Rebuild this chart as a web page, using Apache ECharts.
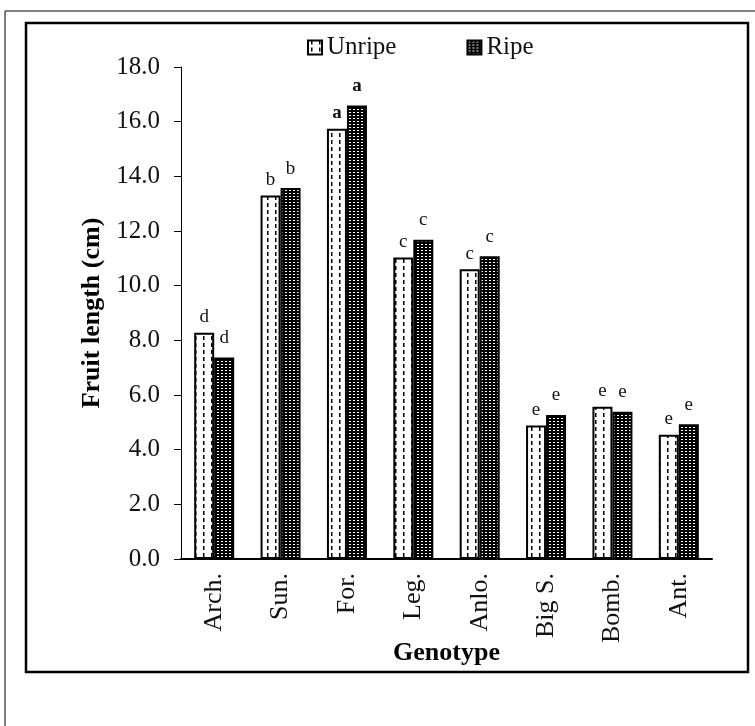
<!DOCTYPE html>
<html><head><meta charset="utf-8">
<script src="https://cdn.jsdelivr.net/npm/echarts@6/dist/echarts.min.js"></script>
<style>html,body{margin:0;padding:0;background:#fff}#c{width:755px;height:726px}</style>
</head><body><div id="c"></div>
<script>
const categories = ['Arch.', 'Sun.', 'For.', 'Leg.', 'Anlo.', 'Big S.', 'Bomb.', 'Ant.'];
const unripe = [8.28, 13.30, 15.74, 11.03, 10.60, 4.88, 5.57, 4.55];
const ripe = [7.37, 13.57, 16.59, 11.68, 11.08, 5.27, 5.39, 4.93];
const unripeLetters = ['d', 'b', 'a', 'c', 'c', 'e', 'e', 'e'];
const ripeLetters = ['d', 'b', 'a', 'c', 'c', 'e', 'e', 'e'];
const boldLetters = [false, false, true, false, false, false, false, false];
const yMin = 0, yMax = 18, yStep = 2;

const FONT = "'Liberation Serif', 'DejaVu Serif', serif";

function makeDash() {
  const c = document.createElement('canvas');
  c.width = 8; c.height = 7;
  const g = c.getContext('2d');
  g.fillStyle = '#fff'; g.fillRect(0, 0, 8, 7);
  g.fillStyle = '#000'; g.fillRect(3, 0, 1.5, 4);
  return c;
}
function makeDots() {
  const c = document.createElement('canvas');
  c.width = 4; c.height = 3;
  const g = c.getContext('2d');
  g.fillStyle = '#000'; g.fillRect(0, 0, 4, 3);
  g.fillStyle = '#fff'; g.fillRect(1, 1, 2, 1);
  return c;
}
const dashFill = { image: makeDash(), repeat: 'repeat' };
const dotFill = { image: makeDots(), repeat: 'repeat' };

function mkData(vals, letters) {
  return vals.map((v, i) => ({
    value: v,
    label: { formatter: letters[i], fontWeight: boldLetters[i] ? 'bold' : 'normal' }
  }));
}

const chart = echarts.init(document.getElementById('c'), null, { renderer: 'canvas' });
chart.setOption({
  animation: false,
  backgroundColor: '#fff',
  textStyle: { fontFamily: FONT, color: '#000' },
  legend: {
    left: 302, top: 30, icon: 'rect',
    itemWidth: 14, itemHeight: 14, itemGap: 70,
    textStyle: { fontFamily: FONT, fontSize: 25, color: '#111' },
    data: ['Unripe', 'Ripe']
  },
  grid: { left: 181, right: 43, top: 67, bottom: 167 },
  xAxis: {
    type: 'category', data: categories,
    name: 'Genotype', nameLocation: 'middle', nameGap: 81, nameMoveOverlap: false,
    nameTextStyle: { fontFamily: FONT, fontSize: 26, fontWeight: 'bold', color: '#000' },
    axisLine: { lineStyle: { color: '#000', width: 2 } },
    axisTick: { show: false },
    axisLabel: { rotate: 90, margin: 14, fontFamily: FONT, fontSize: 26, color: '#111', interval: 0 }
  },
  yAxis: {
    type: 'value', min: yMin, max: yMax, interval: yStep,
    name: 'Fruit length (cm)', nameLocation: 'middle', nameGap: 76, nameMoveOverlap: false,
    nameTextStyle: { fontFamily: FONT, fontSize: 26, fontWeight: 'bold', color: '#000' },
    axisLine: { show: true, lineStyle: { color: '#000', width: 1 } },
    axisTick: { show: true, length: 7, lineStyle: { color: '#000' } },
    splitLine: { show: false },
    axisLabel: { margin: 21, fontFamily: FONT, fontSize: 25, color: '#111', formatter: v => v.toFixed(1) }
  },
  series: [
    {
      name: 'Unripe', type: 'bar', barWidth: 20, barGap: '0%',
      itemStyle: { color: dashFill, borderColor: '#000', borderWidth: 2 },
      label: { show: true, position: 'top', distance: 6, fontFamily: FONT, fontSize: 19, color: '#111' },
      data: mkData(unripe, unripeLetters)
    },
    {
      name: 'Ripe', type: 'bar', barWidth: 20, barGap: '0%',
      itemStyle: { color: dotFill, borderColor: '#000', borderWidth: 2 },
      label: { show: true, position: 'top', distance: 10, fontFamily: FONT, fontSize: 19, color: '#111' },
      data: mkData(ripe, ripeLetters)
    }
  ],
  graphic: [
    { type: 'line', shape: { x1: 5, y1: 11, x2: 755, y2: 11 }, style: { stroke: '#555', lineWidth: 1.5 }, silent: true },
    { type: 'line', shape: { x1: 5, y1: 11, x2: 5, y2: 726 }, style: { stroke: '#555', lineWidth: 1.5 }, silent: true },
    { type: 'rect', shape: { x: 26, y: 23, width: 722, height: 649 }, style: { fill: null, stroke: '#000', lineWidth: 2.5 }, silent: true }
  ]
});
</script>
</body></html>
